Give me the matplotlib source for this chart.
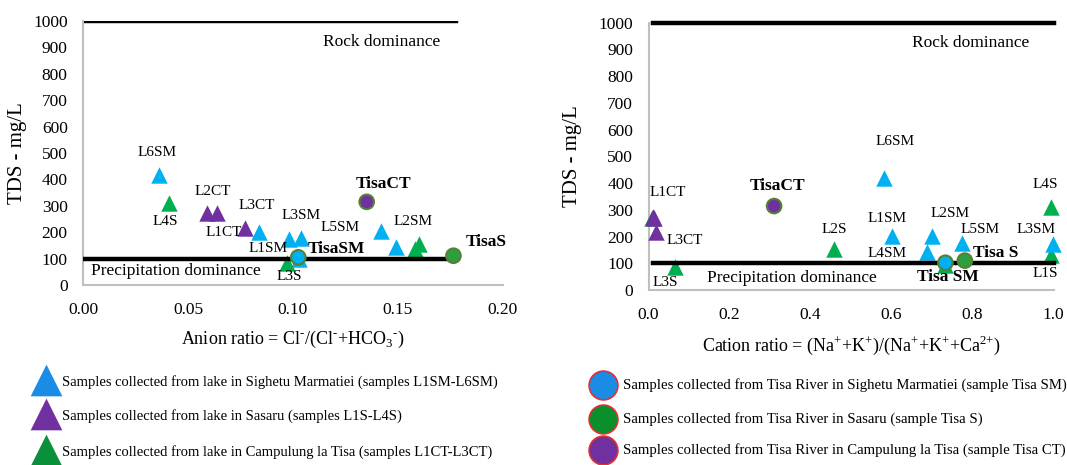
import matplotlib
matplotlib.use("Agg")
import matplotlib.pyplot as plt

plt.rcParams['font.family'] = ['Liberation Serif', 'DejaVu Serif']
plt.rcParams['mathtext.fontset'] = 'custom'
plt.rcParams['mathtext.rm'] = 'Liberation Serif'

# ---------------- data ----------------
# Left panel: anion ratio vs TDS
sm_anion_x = [0.036, 0.084, 0.098, 0.104, 0.142, 0.149, 0.103]
sm_anion_y = [415, 202, 173, 177, 205, 145, 100]
s_anion_x = [0.041, 0.097, 0.158, 0.160]
s_anion_y = [310, 82, 135, 155]
ct_anion_x = [0.059, 0.064, 0.077]
ct_anion_y = [271, 271, 217]
tisa_anion_x = [0.1025, 0.1764, 0.1351]   # SM, S, CT
tisa_anion_y = [105, 111, 315]

anion_labels = ["L6SM", "L4S", "L2CT", "L1CT", "L3CT", "L3SM", "L1SM", "L5SM", "L2SM", "L3S"]
anion_label_x = [0.0354, 0.0394, 0.0617, 0.0671, 0.0827, 0.1038, 0.0883, 0.1224, 0.157, 0.0983]
anion_label_y = [502, 240, 356, 199, 303, 265, 139, 218, 242, 31]
anion_bold = ["TisaCT", "TisaSM", "TisaS"]
anion_bold_x = [0.143, 0.1208, 0.1922]
anion_bold_y = [382, 135, 164]

# Right panel: cation ratio vs TDS
sm_cat_x = [0.582, 0.602, 0.701, 0.687, 0.774, 0.998]
sm_cat_y = [418, 202, 203, 143, 175, 171]
s_cat_x = [0.994, 0.994, 0.459, 0.065, 0.008, 0.733]
s_cat_y = [312, 131, 152, 87, 268, 95]
ct_cat_x = [0.012, 0.014, 0.019]
ct_cat_y = [272, 268, 218]
tisa_cat_x = [0.733, 0.781, 0.310]   # SM, S, CT
tisa_cat_y = [102, 110, 314]

cat_labels = ["L1CT", "L3CT", "L3S", "L2S", "L6SM", "L1SM", "L4SM", "L2SM", "L5SM", "L4S", "L3SM", "L1S"]
cat_label_x = [0.048, 0.090, 0.042, 0.459, 0.610, 0.590, 0.589, 0.745, 0.818, 0.980, 0.957, 0.980]
cat_label_y = [364, 185, 27, 227, 555, 268, 135, 287, 228, 393, 227, 60]
cat_bold = ["TisaCT", "Tisa S", "Tisa SM"]
cat_bold_x = [0.318, 0.857, 0.739]
cat_bold_y = [389, 140, 47]

legend_lake = ["Samples collected from lake in Sighetu Marmatiei (samples L1SM-L6SM)",
               "Samples collected from lake in Sasaru (samples L1S-L4S)",
               "Samples collected from lake in Campulung la Tisa (samples L1CT-L3CT)"]
legend_river = ["Samples collected from Tisa River in Sighetu Marmatiei (sample Tisa SM)",
                "Samples collected from Tisa River in Sasaru (sample Tisa S)",
                "Samples collected from Tisa River in Campulung la Tisa (sample Tisa CT)"]

BLUE = "#00B0F0"
GREEN = "#00B050"
PURPLE = "#7030A0"
CIRC_EDGE = "#548235"
GREEN_C = "#2E9E3E"

fig = plt.figure(figsize=(10.67, 4.65), dpi=100)

def style(ax, xlim, xticks, xlabels, ylab_x):
    ax.set_xlim(*xlim)
    ax.set_ylim(0, 1000)
    ax.set_yticks(range(0, 1001, 100))
    ax.set_xticks(xticks)
    ax.set_xticklabels(xlabels)
    for s in ["top", "right"]:
        ax.spines[s].set_visible(False)
    for s in ["left", "bottom"]:
        ax.spines[s].set_color("#BFBFBF")
        ax.spines[s].set_linewidth(1.5)
    ax.tick_params(axis="y", length=0, labelsize=12.5, pad=11)
    ax.tick_params(axis="x", length=0, labelsize=12.5, pad=12)
    ax.set_ylabel("TDS - mg/L", fontsize=15)
    ax.yaxis.set_label_coords(ylab_x, 0.5)

ms_tri = 140
ms_circ = 110
HY = r"\text{-}"

# Left panel
ax1 = fig.add_axes([0.0778, 0.387, 0.3936, 0.568])
style(ax1, (0, 0.2), [0, 0.05, 0.10, 0.15, 0.20], ["0.00", "0.05", "0.10", "0.15", "0.20"], -0.133)
ax1.plot([0, 0.1776], [1000, 1000], color="black", lw=3.2, zorder=1)
ax1.plot([0, 0.1776], [100, 100], color="black", lw=3.2, zorder=4)
ax1.scatter(sm_anion_x, sm_anion_y, marker="^", s=ms_tri, color=BLUE, zorder=3, linewidths=0)
ax1.scatter(s_anion_x, s_anion_y, marker="^", s=ms_tri, color=GREEN, zorder=3, linewidths=0)
ax1.scatter(ct_anion_x, ct_anion_y, marker="^", s=ms_tri, color=PURPLE, zorder=3, linewidths=0)
ax1.scatter(tisa_anion_x, tisa_anion_y, marker="o", s=ms_circ,
            color=[BLUE, GREEN_C, PURPLE], edgecolors=CIRC_EDGE, linewidths=1.5, zorder=5)
for t, x, y in zip(anion_labels, anion_label_x, anion_label_y):
    ax1.text(x, y, t, fontsize=11, ha="center", va="center", zorder=6)
for t, x, y in zip(anion_bold, anion_bold_x, anion_bold_y):
    ax1.text(x, y, t, fontsize=12.5, fontweight="bold", ha="center", va="center", zorder=6)
ax1.text(0.142, 921, "Rock dominance", fontsize=12.5, ha="center", va="center")
ax1.text(0.0037, 54, "Precipitation dominance", fontsize=12.5, ha="left", va="center")
ax1.set_xlabel("Anion ratio = Cl$^{%s}$/(Cl$^{%s}$+HCO$_{3}$$^{%s}$)" % (HY, HY, HY),
               fontsize=13, labelpad=8)

# Right panel
ax2 = fig.add_axes([0.6078, 0.3763, 0.3796, 0.575])
style(ax2, (0, 1.0), [0, 0.2, 0.4, 0.6, 0.8, 1.0], ["0.0", "0.2", "0.4", "0.6", "0.8", "1.0"], -0.164)
ax2.plot([0.011, 1.0], [1000, 1000], color="black", lw=3.2, zorder=1, clip_on=False)
ax2.plot([0.011, 1.0], [100, 100], color="black", lw=3.2, zorder=4, clip_on=False)
ax2.scatter(s_cat_x, s_cat_y, marker="^", s=ms_tri, color=GREEN, zorder=3, linewidths=0, clip_on=False)
ax2.scatter(sm_cat_x, sm_cat_y, marker="^", s=ms_tri, color=BLUE, zorder=3, linewidths=0, clip_on=False)
ax2.scatter(ct_cat_x, ct_cat_y, marker="^", s=ms_tri, color=PURPLE, zorder=3, linewidths=0, clip_on=False)
ax2.scatter(tisa_cat_x, tisa_cat_y, marker="o", s=ms_circ,
            color=[BLUE, GREEN_C, PURPLE], edgecolors=CIRC_EDGE, linewidths=1.5, zorder=5)
for t, x, y in zip(cat_labels, cat_label_x, cat_label_y):
    ax2.text(x, y, t, fontsize=11, ha="center", va="center", zorder=6)
for t, x, y in zip(cat_bold, cat_bold_x, cat_bold_y):
    ax2.text(x, y, t, fontsize=12.5, fontweight="bold", ha="center", va="center", zorder=6)
ax2.text(0.795, 923, "Rock dominance", fontsize=12.5, ha="center", va="center")
ax2.text(0.144, 44, "Precipitation dominance", fontsize=12.5, ha="left", va="center")
ax2.set_xlabel(r"Cation ratio = (Na$^{\text{+}}$+K$^{\text{+}}$)/(Na$^{\text{+}}$+K$^{\text{+}}$+Ca$^{\text{2+}}$)",
               fontsize=13, labelpad=8)

# Legend (figure overlay in pixel coordinates)
lg = fig.add_axes([0, 0, 1, 1], zorder=-1)
lg.set_xlim(0, 1067)
lg.set_ylim(465, 0)
lg.axis("off")
tri_cols = ["#1A8CE6", "#7030A0", "#0A8F3A"]
tri_y = [380, 414, 450]
for c, y, t in zip(tri_cols, tri_y, legend_lake):
    lg.scatter([46], [y], marker="^", s=520, color=c, linewidths=0, clip_on=False)
    lg.text(62, y + 2, t, fontsize=10.5, ha="left", va="center")
circ_cols = ["#1A8CE6", "#0A8F2A", "#7030A0"]
circ_y = [385, 419, 450]
for c, y, t in zip(circ_cols, circ_y, legend_river):
    lg.scatter([603], [y], marker="o", s=430, color=c, edgecolors="#E03030", linewidths=1.2, clip_on=False)
    lg.text(623, y, t, fontsize=10.6, ha="left", va="center")

fig.savefig("out.png", dpi=100)
